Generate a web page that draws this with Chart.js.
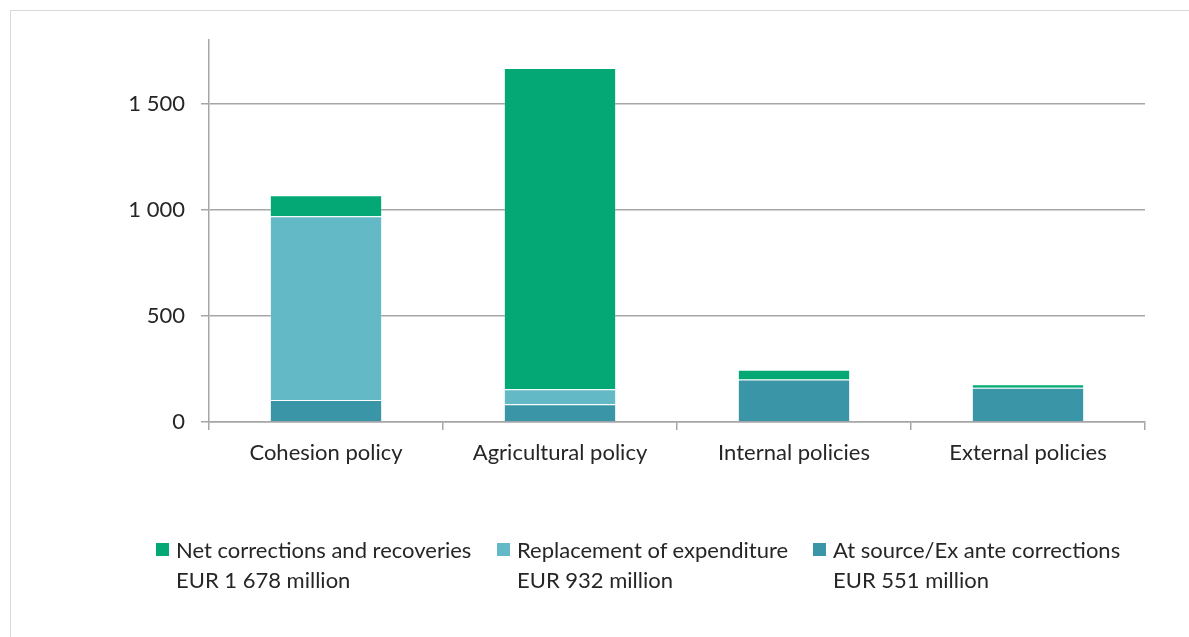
<!DOCTYPE html>
<html>
<head>
<meta charset="utf-8">
<script src="https://cdn.jsdelivr.net/npm/chart.js@4/dist/chart.umd.min.js"></script>
<style>
  html, body { margin: 0; padding: 0; background: #fff; }
  #wrap { position: relative; width: 1189px; height: 637px; overflow: hidden; }
  #frame { position: absolute; left: 10px; top: 10px; width: 1200px; height: 700px; border: 1px solid #d9d9d9; box-sizing: border-box; }
  canvas { position: absolute; left: 0; top: 0; }
  #legend { position: absolute; top: 535px; left: 0; width: 1189px; font-family: Lato, "Open Sans", sans-serif; font-size: 22px; color: #262626; }
  .item { position: absolute; top: 0; line-height: 30px; }
  .sw { position: absolute; width: 13px; height: 13px; top: 8px; }
  .txt { position: absolute; white-space: nowrap; }
</style>
</head>
<body>
<div id="wrap">
  <div id="frame"></div>
  <canvas id="c" width="1189" height="637"></canvas>
  <div id="legend"></div>
</div>
<script>
const categories = ["Cohesion policy", "Agricultural policy", "Internal policies", "External policies"];
const atSource = [104, 84, 200, 161];
const replacement = [866, 70, 0, 0];
const netCorrections = [99, 1514, 46, 17];
const seriesNames = ["Net corrections and recoveries", "Replacement of expenditure", "At source/Ex ante corrections"];
const seriesTotals = ["EUR 1 678 million", "EUR 932 million", "EUR 551 million"];
const yTicks = [0, 500, 1000, 1500];

const colNet = "#04a874";
const colRep = "#64b9c6";
const colSrc = "#3a95a6";

const ctx = document.getElementById("c").getContext("2d");
new Chart(ctx, {
  type: "bar",
  data: {
    labels: categories,
    datasets: [
      { label: seriesNames[2], data: atSource, backgroundColor: colSrc, borderColor: "rgba(255,255,255,0.25)", borderWidth: 1 },
      { label: seriesNames[1], data: replacement, backgroundColor: colRep, borderColor: "rgba(255,255,255,0.25)", borderWidth: 1 },
      { label: seriesNames[0], data: netCorrections, backgroundColor: colNet, borderColor: "rgba(255,255,255,0.25)", borderWidth: 1 }
    ]
  },
  options: {
    responsive: false,
    animation: false,
    devicePixelRatio: 1,
    layout: { padding: { left: 0, top: 40, right: 44, bottom: 164 } },
    plugins: { legend: { display: false }, tooltip: { enabled: false } },
    datasets: { bar: { barPercentage: 0.48, categoryPercentage: 1.0 } },
    scales: {
      x: {
        stacked: true,
        offset: true,
        grid: { offset: true, drawOnChartArea: false, drawTicks: true, tickLength: 8, color: "#a6a6a6", lineWidth: 1.5 },
        border: { display: true, color: "#a6a6a6", width: 1.5 },
        ticks: { color: "#262626", font: { family: "Lato", size: 22 }, padding: 10 },
        afterFit: s => { s.height = 51; }
      },
      y: {
        stacked: true,
        min: 0,
        max: 1800,
        afterBuildTicks: axis => { axis.ticks = yTicks.map(v => ({ value: v })); },
        grid: { color: "#a6a6a6", lineWidth: 1.5, drawTicks: true, tickLength: 8 },
        border: { display: true, color: "#a6a6a6", width: 1.5 },
        ticks: {
          color: "#262626",
          font: { family: "Lato", size: 22 },
          padding: 16,
          callback: v => String(v).replace(/\B(?=(\d{3})+(?!\d))/g, " ")
        },
        afterFit: s => { s.width = 209; }
      }
    }
  }
});

const legend = document.getElementById("legend");
const legendCols = [colNet, colRep, colSrc];
const legendX = [156, 497, 813];
seriesNames.forEach((name, i) => {
  const it = document.createElement("div");
  it.className = "item";
  it.style.left = legendX[i] + "px";
  it.innerHTML = '<div class="sw" style="background:' + legendCols[i] + '"></div>' +
    '<div class="txt" style="left:20px;top:0">' + name + '</div>' +
    '<div class="txt" style="left:20px;top:30px">' + seriesTotals[i] + '</div>';
  legend.appendChild(it);
});
</script>
</body>
</html>
